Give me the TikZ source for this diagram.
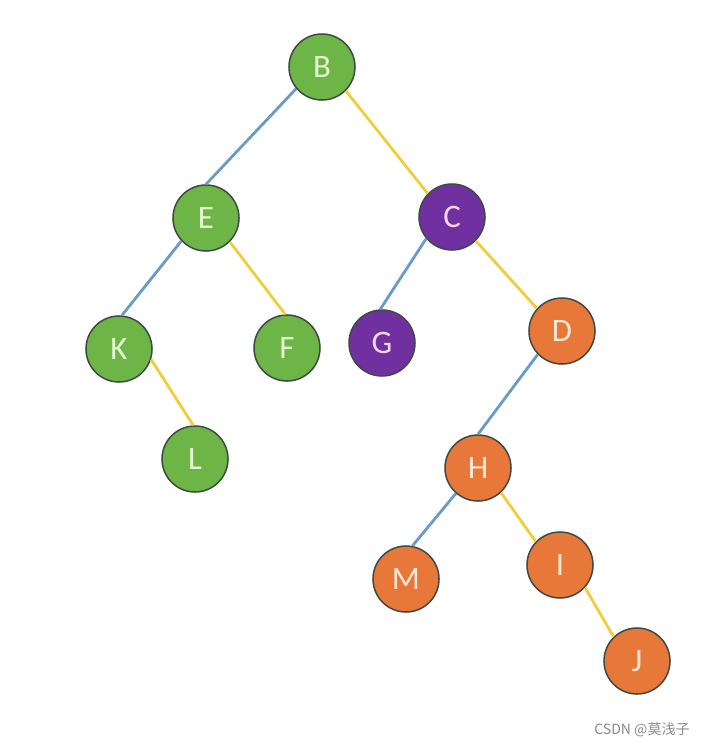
\documentclass[tikz,border=0pt]{standalone}
\usepackage{fontspec}
\setmainfont{Carlito}
\newfontfamily\cjk{Noto Sans CJK SC}
\usepackage{tikz}
\usetikzlibrary{positioning}
\definecolor{treegreen}{HTML}{6CB546}
\definecolor{treepurple}{HTML}{7030A0}
\definecolor{treeorange}{HTML}{E8773A}
\definecolor{txtgreen}{HTML}{E4F7D2}
\definecolor{txtpurple}{HTML}{F7D6F2}
\definecolor{txtorange}{HTML}{FDE8D6}
\definecolor{rimgray}{HTML}{3F4A44}
\definecolor{edgeblue}{HTML}{6A9BC8}
\definecolor{edgeyellow}{HTML}{F2CD3B}
\definecolor{markgray}{HTML}{8A8A8A}
\tikzset{
  treenode/.style={
    circle,
    draw=rimgray,
    line width=1.3pt,
    minimum size=1.98cm,
    inner sep=0pt,
    font=\fontsize{28}{32}\selectfont
  },
  greennode/.style={treenode, fill=treegreen, text=txtgreen},
  purplenode/.style={treenode, fill=treepurple, text=txtpurple},
  orangenode/.style={treenode, fill=treeorange, text=txtorange},
  leftedge/.style={draw=edgeblue, line width=2.4pt},
  rightedge/.style={draw=edgeyellow, line width=2.4pt}
}

\begin{document}
\begin{tikzpicture}[x=0.03cm, y=-0.03cm]
  \useasboundingbox (0,0) rectangle (708,747);

  \node[greennode] (b) at (322,67) {B};
  \node[greennode] (e) at (206,218) {E};
  \node[purplenode] (c) at (452,217) {C};
  \node[greennode] (k) at (119,349) {K};
  \node[greennode] (f) at (287,348) {F};
  \node[purplenode] (g) at (382,343) {G};
  \node[orangenode] (d) at (562,331) {D};
  \node[greennode] (l) at (195,459) {L};
  \node[orangenode] (h) at (478,468) {H};
  \node[orangenode] (m) at (406,579) {M};
  \node[orangenode] (i) at (560,565) {I};
  \node[orangenode] (j) at (637,661) {J};

  \draw[leftedge] (b.220) -- (e.90);
  \draw[rightedge] (b.-45) -- (c.136);
  \draw[leftedge] (e.223) -- (k.85);
  \draw[rightedge] (e.-45) -- (f.93);
  \draw[rightedge] (k.-18) -- (l.93);
  \draw[leftedge] (c.220) -- (g.93);
  \draw[rightedge] (c.-45) -- (d.138);
  \draw[leftedge] (d.224) -- (h.90);
  \draw[leftedge] (h.229) -- (m.79);
  \draw[rightedge] (h.-47) -- (i.136);
  \draw[rightedge] (i.-42) -- (j.134);

  \node[text=markgray, font=\cjk\fontsize{12}{14}\selectfont] (mark) at (642,730) {CSDN @莫浅子};
\end{tikzpicture}
\end{document}
